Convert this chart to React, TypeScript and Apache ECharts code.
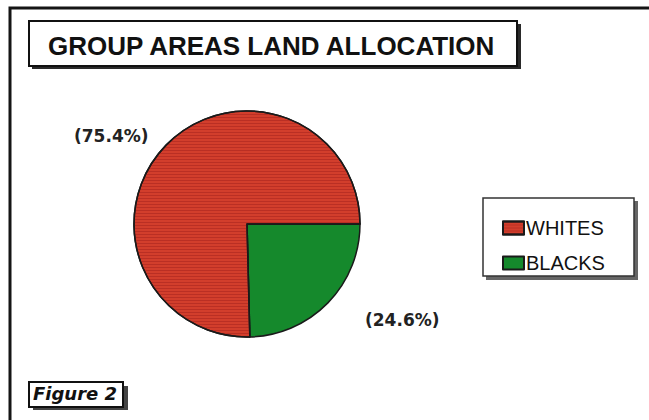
import React, { useEffect, useRef } from "react";
import * as echarts from "echarts";

const categories = ["WHITES", "BLACKS"];
const shares = [75.4, 24.6];
const sliceColors = ["#d23e2c", "#15892c"];
const titleText = "GROUP AREAS LAND ALLOCATION";
const figureText = "Figure 2";

const labelSpots: Record<string, [number, number]> = {
  WHITES: [74, 136],
  BLACKS: [365, 320],
};

export default function App() {
  const ref = useRef<HTMLDivElement>(null);
  useEffect(() => {
    if (!ref.current) return;
    const chart = echarts.init(ref.current, null, { renderer: "svg" });
    // draw BLACKS first from 3 o'clock clockwise, WHITES fills the rest
    const order = [1, 0];
    const data = order.map((i) => ({
      name: categories[i],
      value: shares[i],
      itemStyle: {
        color: sliceColors[i],
        decal:
          i === 0
            ? {
                symbol: "rect",
                symbolSize: 1,
                dashArrayX: [1, 0],
                dashArrayY: [1, 2],
                rotation: 0,
                color: "rgba(150,25,25,0.4)",
              }
            : undefined,
      },
    }));
    chart.setOption({
      animation: false,
      backgroundColor: "#ffffff",
      title: {
        text: titleText,
        left: 43,
        top: 28,
        textStyle: {
          fontFamily: "Liberation Sans, Arial, sans-serif",
          fontWeight: "bold",
          fontSize: 26,
          color: "#111",
        },
      },
      legend: {
        data: categories,
        orient: "vertical",
        left: 497,
        top: 213,
        itemWidth: 21,
        itemHeight: 13,
        itemGap: 15,
        icon: "rect",
        selectedMode: false,
        textStyle: {
          fontFamily: "Liberation Sans, Arial, sans-serif",
          fontSize: 20,
          color: "#111",
          padding: [0, 0, 0, -3],
        },
      },
      graphic: [
        {
          type: "rect",
          shape: { x: 10, y: 8, width: 700, height: 500 },
          style: { fill: "none", stroke: "#151515", lineWidth: 3 },
          z: 0,
        },
        {
          type: "rect",
          shape: { x: 32, y: 24, width: 489, height: 45 },
          style: { fill: "#2a2a2a" },
          z: 0,
        },
        {
          type: "rect",
          shape: { x: 29, y: 21, width: 488, height: 45 },
          style: { fill: "#ffffff", stroke: "#111", lineWidth: 2 },
          z: 0,
        },
        {
          type: "rect",
          shape: { x: 486, y: 201, width: 152, height: 79 },
          style: { fill: "#666" },
          z: 0,
        },
        {
          type: "rect",
          shape: { x: 483, y: 198, width: 151, height: 78 },
          style: { fill: "#ffffff", stroke: "#333", lineWidth: 1.5 },
          z: 0,
        },
        {
          type: "rect",
          shape: { x: 33, y: 386, width: 95, height: 24 },
          style: { fill: "#444" },
          z: 0,
        },
        {
          type: "rect",
          shape: { x: 29, y: 382, width: 94, height: 25 },
          style: { fill: "#ffffff", stroke: "#111", lineWidth: 2 },
          z: 1,
        },
        {
          type: "text",
          x: 33,
          y: 384,
          z: 2,
          style: {
            text: figureText,
            fontFamily: "DejaVu Sans, sans-serif",
            fontWeight: "bold",
            fontStyle: "italic",
            fontSize: 18,
            fill: "#111",
          },
        },
      ],
      series: [
        {
          type: "pie",
          center: [247, 224],
          radius: 113,
          startAngle: 0,
          clockwise: true,
          data,
          itemStyle: { borderColor: "#1a1a1a", borderWidth: 1.5 },
          label: {
            show: true,
            position: "outside",
            formatter: "({c}%)",
            fontFamily: "DejaVu Sans, sans-serif",
            fontWeight: "bold",
            fontSize: 17,
            color: "#222",
          },
          labelLine: { show: false },
          labelLayout: (p: any) => {
            const name = categories[order[p.dataIndex]];
            const s = labelSpots[name];
            return { x: s[0], y: s[1], align: "left", verticalAlign: "middle" };
          },
          emphasis: { disabled: true },
        },
      ],
    });
    return () => chart.dispose();
  }, []);
  return (
    <div
      ref={ref}
      style={{ position: "absolute", left: 0, top: 0, width: 649, height: 420 }}
    />
  );
}
